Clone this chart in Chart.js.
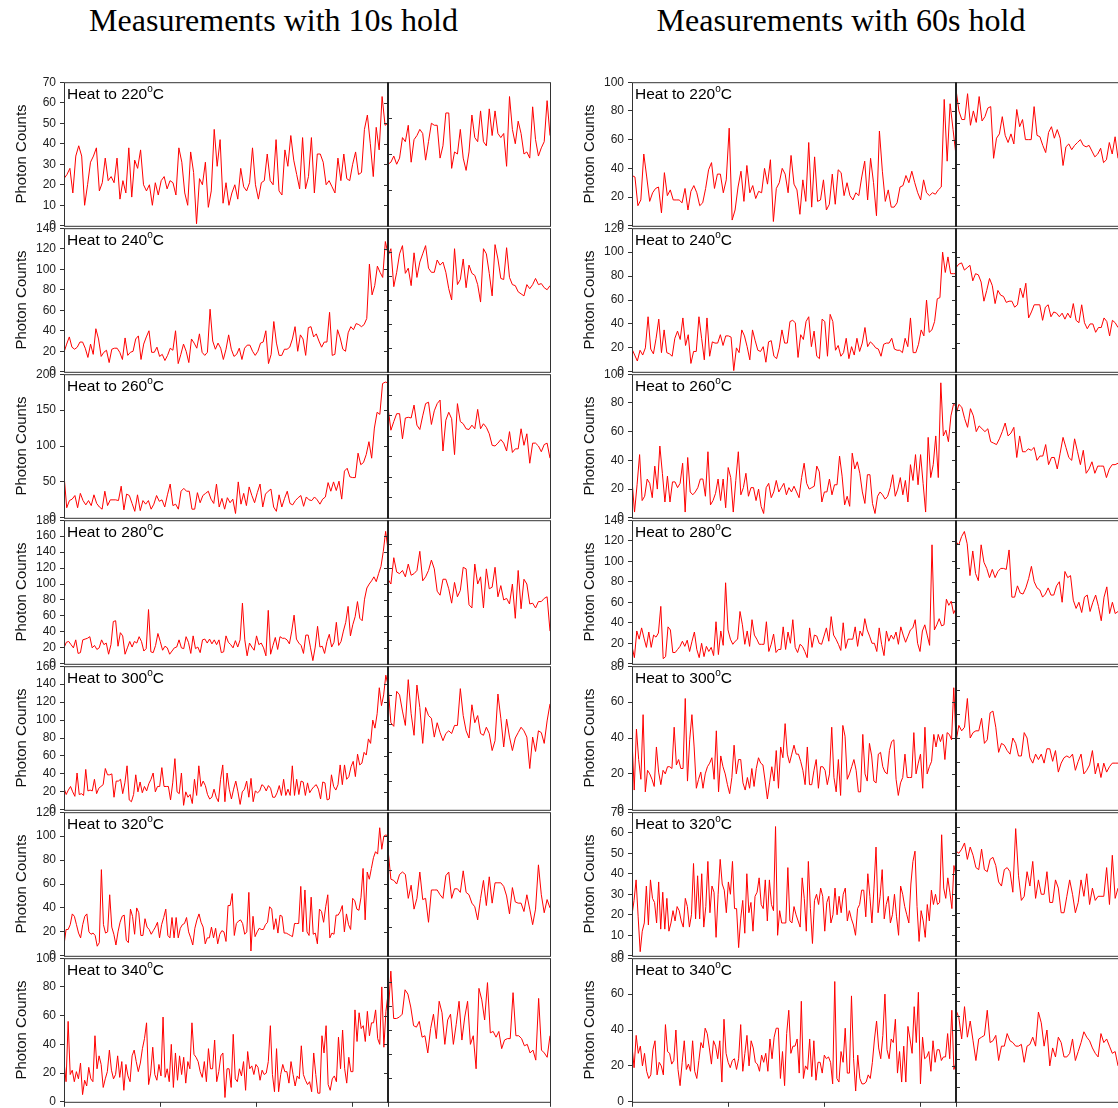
<!DOCTYPE html>
<html lang="en">
<head>
<meta charset="UTF-8">
<title>Photon counts - heat and hold</title>
<script src="https://cdn.jsdelivr.net/npm/chart.js"></script>
<style>
    html, body {
        margin: 0;
        padding: 0;
        overflow: hidden;
        background: #fff;
    }
    body {
        position: relative;
        width: 1118px;
        height: 1108px;
        font-family: 'Liberation Sans', Arial, sans-serif;
    }
    .title {
        position: absolute;
        top: 4px;
        font-family: 'Liberation Serif', 'Times New Roman', serif;
        font-size: 32px;
        line-height: 1;
        text-align: center;
        color: #000;
    }
    canvas {
        position: absolute;
    }
    .lbl {
        position: absolute;
        font-size: 15.5px;
        line-height: 1;
        color: #000;
        white-space: nowrap;
    }
    .lbl span {
        font-size: 10px;
        position: relative;
        top: -7px;
    }
</style>
</head>
<body>
<div class="title" style="left:0;width:547px;">Measurements with 10s hold</div>
<div class="title" style="left:570px;width:542px;">Measurements with 60s hold</div>

<script>
// panel settings
const temps = [220, 240, 260, 280, 300, 320, 340];
const yMax10 = [70, 140, 200, 180, 160, 120, 100];
const yStep10 = [10, 20, 50, 20, 20, 20, 20];
const yMax60 = [100, 120, 100, 140, 80, 70, 80];
const yStep60 = [20, 20, 20, 20, 20, 10, 20];
const holdDiv10 = [4, 6, 7, 6, 5, 5, 6];
const holdDiv60 = [7, 5, 4, 6, 6, 10, 10];

// 10s hold, heating part and hold part
const heat10_220 = [23,25,28,16,34,39,34,10,20,31,34,38,17,21,33,22,24,21,33,13,22,16,38,14,32,28,37,20,17,20,10,21,15,22,24,18,22,21,15,38,31,16,10,36,26,1,23,20,31,9,17,47,29,42,11,21,10,16,20,13,28,19,17,21,38,20,13,21,22,35,22,20,42,17,15,37,29,44,32,25,18,43,18,24,43,16,35,35,31,20,22,19,16,33,22,35,23,22,30,36,25,26,47,54,40,24,48,37,63,49,50];
const hold10_220 = [30,31,34,30,33,43,41,49,31,42,44,47,45,32,41,50,49,49,33,39,55,55,28,36,35,47,33,27,36,54,43,41,56,41,39,57,44,56,45,43,45,29,63,47,40,51,45,35,36,33,58,42,34,38,41,61,44];
const heat10_240 = [19,27,34,24,22,24,29,29,23,14,27,17,42,32,15,19,21,9,22,23,23,19,12,33,16,19,20,32,35,12,27,34,40,19,19,24,15,17,11,16,23,21,40,8,17,27,20,9,32,28,23,37,19,16,19,61,30,22,28,23,12,22,36,22,15,17,23,12,23,26,26,20,16,20,28,29,40,8,17,49,28,16,16,22,22,24,32,44,20,36,32,16,43,44,34,37,30,24,29,29,58,16,17,41,33,22,20,38,44,41,47,46,44,46,52,105,75,84,103,97,92,127,115];
const hold10_240 = [113,120,83,97,115,123,96,101,84,116,92,107,115,123,101,97,97,109,104,107,97,81,70,120,85,90,110,82,104,96,94,85,68,120,115,96,74,124,110,91,90,121,92,85,84,78,76,74,85,81,85,91,85,86,82,80,84];
const heat10_260 = [60,14,24,26,31,14,34,24,18,24,17,32,20,15,12,37,17,25,25,25,24,44,11,33,31,20,9,32,10,24,19,24,12,19,31,23,25,15,32,47,17,19,12,37,41,37,37,12,12,35,21,31,34,37,26,20,47,15,27,12,28,21,26,6,50,19,34,17,43,31,21,35,47,15,33,37,40,15,9,32,15,27,37,20,18,24,28,31,16,29,25,24,29,25,19,26,29,49,37,50,38,51,26,65,69,57,56,56,90,74,77,88,106,83,125,147,144,187,189,188];
const hold10_260 = [154,122,134,145,145,110,139,140,139,157,129,123,142,159,161,130,149,159,164,93,136,147,138,88,159,134,131,124,123,129,124,151,124,131,126,117,101,100,104,109,104,93,120,91,96,96,124,101,117,76,104,104,100,92,102,104,83];
const heat10_280 = [20,27,28,24,20,30,13,14,30,31,32,34,20,23,18,20,30,24,26,12,24,53,54,22,39,35,12,20,28,21,28,26,34,28,16,19,68,15,14,23,38,28,17,22,20,12,16,20,21,30,20,19,34,27,13,35,19,21,14,30,31,26,31,25,30,24,30,14,15,35,27,24,20,29,21,30,76,30,10,26,21,17,35,24,26,20,10,67,12,23,33,18,34,32,32,30,25,41,61,31,26,23,13,36,36,20,4,21,47,21,22,13,28,37,21,27,52,23,28,41,52,72,35,49,59,78,57,54,81,95,100,104,109,103,113,122,141,166,143];
const hold10_280 = [106,100,133,115,113,117,109,125,111,113,117,141,104,109,117,130,119,91,86,106,106,94,76,102,84,92,121,119,74,70,125,100,109,70,119,94,96,121,84,98,80,82,75,100,57,117,69,106,100,75,76,70,78,78,82,84,41];
const heat10_300 = [24,17,22,26,20,15,41,17,18,16,45,21,22,21,34,18,24,26,28,46,39,39,40,14,32,32,34,18,30,49,11,9,17,39,20,31,19,26,21,29,34,41,20,26,26,47,26,26,26,11,30,57,20,18,41,5,20,14,17,7,34,16,49,26,32,27,17,12,14,23,14,9,34,50,9,41,23,12,23,32,20,6,20,23,32,14,35,9,21,19,21,28,26,21,27,24,14,14,19,27,16,34,16,23,16,49,16,34,17,32,31,16,30,19,23,26,28,23,12,31,30,11,12,39,26,22,28,50,28,50,34,37,48,54,37,62,50,52,64,61,79,74,100,91,107,136,116,128,150,139];
const hold10_300 = [139,97,93,132,128,110,94,145,107,83,139,114,74,114,105,102,81,97,86,77,85,88,85,94,94,135,105,88,80,117,97,105,85,83,92,85,66,77,129,102,70,101,81,66,80,86,92,88,81,46,81,65,88,86,74,99,118];
const heat10_320 = [9,22,22,26,35,33,26,19,15,26,33,35,20,18,19,17,8,11,72,26,19,20,51,24,18,9,20,28,33,34,13,11,39,33,18,40,36,17,17,31,24,22,18,21,24,28,15,26,32,39,17,15,32,15,32,15,23,26,27,32,20,15,9,23,30,35,28,24,10,15,15,24,15,23,10,18,21,20,12,42,42,52,17,27,29,30,27,18,20,53,4,33,16,20,23,22,22,26,28,41,39,22,31,19,34,33,19,19,18,17,16,27,27,27,58,20,55,20,17,49,18,19,10,39,37,28,41,51,15,19,18,34,34,37,42,20,35,26,22,48,46,39,38,49,73,30,70,64,73,82,87,85,107,89,100,101,100];
const hold10_320 = [89,64,63,60,68,70,68,48,59,39,48,70,47,48,28,55,55,55,51,48,67,70,48,56,56,53,71,53,51,44,41,30,48,63,42,66,44,61,61,61,58,50,35,57,45,44,44,37,51,39,26,39,76,51,36,47,40];
const heat10_340 = [28,14,56,19,22,14,21,16,27,5,15,11,24,16,14,46,23,32,26,10,16,21,36,22,16,19,32,17,28,8,26,18,14,32,36,28,21,27,37,44,55,12,20,38,19,15,26,18,59,17,23,14,40,10,34,15,32,19,31,13,28,23,55,33,31,28,21,17,28,14,37,23,23,43,14,21,32,34,3,23,23,10,47,16,14,23,18,28,8,35,23,25,19,26,24,15,22,19,20,28,53,19,7,37,7,19,26,21,21,13,28,19,11,18,16,39,19,15,12,14,7,34,19,6,6,46,34,53,12,8,16,18,14,45,23,50,23,13,31,21,21,64,42,62,51,53,42,63,46,55,55,64,44,40,80,38,63,75];
const hold10_340 = [58,91,58,58,59,61,78,75,66,53,52,56,45,46,34,51,61,44,70,62,40,57,61,40,54,70,43,59,70,40,46,23,79,71,57,83,48,49,45,49,37,43,44,44,76,46,46,44,39,40,34,36,29,72,36,34,31,46];

// 60s hold, heating part and hold part
const heat60_220 = [35,34,14,18,50,34,17,23,26,27,9,37,21,25,18,18,18,16,26,11,24,28,23,14,16,26,39,44,26,36,36,23,32,68,4,11,27,38,17,42,23,28,19,24,23,40,29,46,3,26,30,40,36,23,49,29,25,8,32,17,58,13,48,17,18,32,11,15,36,15,39,37,21,30,21,18,23,21,34,45,18,47,30,7,66,38,17,25,13,13,16,27,28,35,30,38,30,23,18,32,23,21,23,22,25,27,88,45,85,67,49];
const hold60_220 = [95,80,74,74,92,70,80,72,90,73,76,82,83,47,61,64,76,63,58,64,57,81,69,74,60,60,60,83,63,62,56,51,65,69,61,67,61,42,55,57,53,56,58,60,56,55,56,52,48,50,54,44,46,58,50,62,47];
const heat60_240 = [19,14,9,18,14,20,46,19,15,28,44,16,35,16,15,13,28,34,27,45,22,31,7,17,17,46,28,10,45,13,25,24,24,31,22,30,30,29,1,20,16,35,30,21,10,35,26,18,17,21,8,25,26,13,11,20,35,24,24,42,43,41,12,31,27,42,46,21,34,13,11,44,42,13,48,42,18,22,13,16,28,11,21,14,28,17,24,37,21,25,23,20,19,13,23,24,24,28,19,18,18,16,28,21,45,16,16,23,35,30,60,33,35,42,61,62,100,83,96,82,82,82];
const hold60_240 = [87,90,91,85,87,89,76,82,81,75,59,68,78,72,57,68,64,63,58,59,59,54,56,70,62,74,45,50,56,56,56,43,54,56,46,50,49,46,49,44,49,45,57,43,41,56,41,36,40,40,33,37,37,45,42,30,43,41,37];
const heat60_260 = [26,4,23,44,12,15,27,24,14,36,20,50,31,11,29,11,25,25,21,24,38,4,42,18,16,18,21,27,27,15,46,9,12,17,27,12,27,7,35,28,4,26,46,16,21,31,15,21,21,12,20,8,3,21,24,14,18,26,18,21,24,16,21,18,22,18,14,28,38,24,20,21,22,36,32,11,18,18,27,16,23,23,43,29,9,15,8,45,34,39,31,18,10,30,30,10,3,15,18,16,13,15,21,30,15,20,28,16,26,11,37,26,44,23,44,24,4,56,28,37,57,28,94,57,61,53,71,79,78];
const hold60_260 = [72,79,77,69,63,76,71,60,64,62,60,62,53,52,51,55,60,66,57,59,63,42,57,46,46,48,47,49,40,43,43,51,37,42,42,34,45,56,49,42,40,55,46,37,47,31,34,39,31,36,36,36,28,34,37,37,38];
const heat60_280 = [17,6,32,24,35,25,16,31,16,28,26,30,56,5,7,36,33,11,11,14,17,22,17,23,12,22,31,14,6,20,7,17,12,16,8,41,9,32,18,79,33,24,19,22,24,51,38,19,32,17,43,28,24,19,19,19,41,12,19,29,11,14,14,36,14,31,20,43,16,11,19,17,12,6,35,16,28,27,20,19,27,35,22,46,28,24,19,13,40,15,24,24,24,36,17,32,27,44,33,27,20,20,12,35,19,8,32,22,28,24,31,19,36,28,21,27,33,35,43,20,12,32,38,28,18,116,33,38,44,37,38,63,57,61,49,54];
const hold60_280 = [119,116,124,129,117,86,110,88,81,116,99,93,84,92,84,90,93,93,92,111,65,65,76,69,68,74,83,95,80,74,72,65,68,74,67,67,76,80,60,90,84,86,62,54,60,50,65,67,51,60,67,56,42,65,75,49,60,49,51];
const heat60_300 = [39,11,45,28,17,53,10,22,20,17,13,35,21,14,22,20,24,24,23,46,25,28,23,23,62,16,39,53,35,12,17,21,12,20,24,26,29,17,44,10,30,24,20,14,9,18,36,20,28,28,15,11,18,12,23,13,23,29,26,25,16,6,15,24,16,33,12,35,29,48,31,26,31,36,31,31,27,22,14,35,14,14,22,28,12,24,24,22,14,20,46,18,10,28,8,47,41,17,20,24,28,22,10,10,42,20,16,37,30,16,15,31,32,24,21,20,33,38,39,17,8,15,18,31,18,18,18,43,20,26,31,12,46,20,24,27,42,35,42,38,42,28,43,42,39,68,39];
const hold60_300 = [38,47,44,46,62,40,43,44,44,51,37,39,54,55,46,32,37,36,33,31,40,37,30,30,43,40,29,26,31,28,31,26,34,34,27,33,21,26,29,30,29,31,22,27,31,20,22,25,33,20,26,18,26,21,24,26,26,26];
const heat60_320 = [20,27,37,19,2,12,16,34,15,37,28,26,16,36,13,31,13,28,12,16,22,17,24,22,17,14,28,24,14,20,45,18,39,18,40,14,24,46,21,34,31,9,30,47,35,32,21,36,30,46,23,23,4,18,27,11,40,21,26,12,29,31,38,25,23,37,17,37,25,22,63,10,22,16,16,16,43,17,16,24,20,17,14,38,28,12,46,23,6,27,30,25,33,29,12,26,29,16,20,33,20,29,21,30,33,17,22,18,15,10,23,25,32,32,19,40,29,16,33,53,21,29,42,18,25,29,16,20,30,19,10,34,30,24,20,16,35,46,51,24,7,22,17,9,25,17,32,25,30,25,26,59,33,28,38,31,23,44,39];
const hold60_320 = [51,50,52,55,47,53,49,43,42,52,42,41,47,48,44,36,34,42,43,41,31,62,39,27,29,41,34,46,28,37,30,30,41,26,26,37,33,21,21,29,37,30,21,26,37,29,40,25,33,27,29,29,29,43,25,49,28,33];
const heat60_340 = [31,19,37,27,31,20,27,17,13,15,29,34,15,22,20,15,43,28,27,21,23,40,18,9,22,34,18,21,17,34,17,13,23,33,30,41,38,30,21,34,31,24,34,11,46,27,22,19,23,24,18,24,43,17,27,37,20,34,30,22,21,17,26,22,27,17,35,24,36,41,41,13,28,9,38,51,27,31,31,35,16,56,13,20,18,35,14,34,12,22,22,16,26,24,25,22,10,67,13,11,28,22,41,16,16,59,24,6,26,13,10,10,11,15,13,22,35,45,30,24,37,60,29,24,35,33,46,16,28,11,31,11,42,35,27,53,33,61,10,36,24,25,28,17,34,22,29,29,23,25,25,38,24,51,18,22];
const hold60_340 = [51,47,35,53,36,45,34,23,35,36,37,51,33,34,37,23,31,31,38,34,33,31,31,32,22,31,32,36,31,50,44,31,40,20,30,25,36,33,25,25,27,35,23,28,33,39,36,34,30,27,25,38,33,35,31,27,28,20];

const heat10 = [heat10_220, heat10_240, heat10_260, heat10_280, heat10_300, heat10_320, heat10_340];
const hold10 = [hold10_220, hold10_240, hold10_260, hold10_280, hold10_300, hold10_320, hold10_340];
const heat60 = [heat60_220, heat60_240, heat60_260, heat60_280, heat60_300, heat60_320, heat60_340];
const hold60 = [hold60_220, hold60_240, hold60_260, hold60_280, hold60_300, hold60_320, hold60_340];

// x axis in plot pixels: heating 0..324, hold 324..486
const HEAT_W = 324, HOLD_W = 162;
const xTicks = [0, 96, 192, 288, 324, 486];

const PANEL_TOP = 81, PANEL_H = 146, PAD = 10;

Chart.defaults.font.family = "'Liberation Sans', Arial, sans-serif";

// frame, divider and the small ticks on the divider
const framePlugin = {
    id: 'frame',
    afterDatasetsDraw(chart, args, opts) {
        const {ctx, chartArea: a, scales} = chart;
        const divX = Math.round(scales.x.getPixelForValue(HEAT_W));
        ctx.save();
        ctx.strokeStyle = '#333';
        ctx.lineWidth = 1;
        ctx.strokeRect(a.left + 0.5, a.top + 0.5, a.right - a.left, a.bottom - a.top);
        // ticks on divider
        ctx.beginPath();
        scales.y.ticks.forEach(t => {
            const y = Math.round(scales.y.getPixelForValue(t.value)) + 0.5;
            if (y > a.top + 2 && y < a.bottom - 2) {
                ctx.moveTo(divX - 4, y);
                ctx.lineTo(divX, y);
            }
        });
        const n = opts.holdDiv;
        for (let k = 1; k < n; k++) {
            const y = Math.round(a.top + k * (a.bottom - a.top) / n) + 0.5;
            ctx.moveTo(divX, y);
            ctx.lineTo(divX + 4, y);
        }
        ctx.stroke();
        ctx.strokeStyle = '#222';
        ctx.lineWidth = 2;
        ctx.beginPath();
        ctx.moveTo(divX, a.top);
        ctx.lineTo(divX, a.bottom + 1);
        ctx.stroke();
        ctx.restore();
    }
};

function makePanel(left, row, heat, hold, yMax, yStep, holdDiv, temp) {
    const isBottom = row === temps.length - 1;
    const canvas = document.createElement('canvas');
    canvas.width = 560;
    canvas.height = PANEL_H + 2 * PAD;
    canvas.style.left = left + 'px';
    canvas.style.top = (PANEL_TOP + row * PANEL_H - PAD) + 'px';
    document.body.appendChild(canvas);

    const heatPts = heat.map((v, i) => ({x: i * HEAT_W / (heat.length - 1), y: v}));
    const holdPts = hold.map((v, j) => ({x: HEAT_W + j * HOLD_W / (hold.length - 1), y: v}));

    new Chart(canvas.getContext('2d'), {
        type: 'line',
        data: {
            datasets: [
                {data: heatPts, borderColor: '#ff0000', borderWidth: 1, pointRadius: 0, tension: 0},
                {data: holdPts, borderColor: '#ff0000', borderWidth: 1, pointRadius: 0, tension: 0}
            ]
        },
        options: {
            responsive: false,
            animation: false,
            devicePixelRatio: 1,
            layout: {padding: {top: PAD, right: 10, left: 0, bottom: 0}},
            plugins: {
                legend: {display: false},
                tooltip: {enabled: false},
                frame: {holdDiv: holdDiv}
            },
            scales: {
                x: {
                    type: 'linear',
                    min: 0,
                    max: HEAT_W + HOLD_W,
                    afterBuildTicks: s => { s.ticks = xTicks.map(v => ({value: v})); },
                    ticks: {display: false},
                    grid: {drawOnChartArea: false, drawTicks: isBottom, tickLength: 5, color: '#333'},
                    border: {display: false},
                    afterFit: s => { s.height = PAD; }
                },
                y: {
                    min: 0,
                    max: yMax,
                    ticks: {stepSize: yStep, autoSkip: false, color: '#222', padding: 4, font: {size: 12}},
                    grid: {drawOnChartArea: false, drawTicks: true, tickLength: 4, color: '#333'},
                    border: {display: false},
                    title: {
                        display: true,
                        text: 'Photon Counts',
                        color: '#111',
                        font: {size: 15},
                        padding: {top: 13, bottom: 0}
                    },
                    afterFit: s => { s.width = 64; }
                }
            }
        },
        plugins: [framePlugin]
    });

    const lbl = document.createElement('div');
    lbl.className = 'lbl';
    lbl.style.left = (left + 67) + 'px';
    lbl.style.top = (PANEL_TOP + row * PANEL_H + 5) + 'px';
    lbl.innerHTML = 'Heat to ' + temp + '<span>o</span>C';
    document.body.appendChild(lbl);
}

temps.forEach((t, i) => {
    makePanel(0, i, heat10[i], hold10[i], yMax10[i], yStep10[i], holdDiv10[i], t);
    makePanel(568, i, heat60[i], hold60[i], yMax60[i], yStep60[i], holdDiv60[i], t);
});
</script>
</body>
</html>
